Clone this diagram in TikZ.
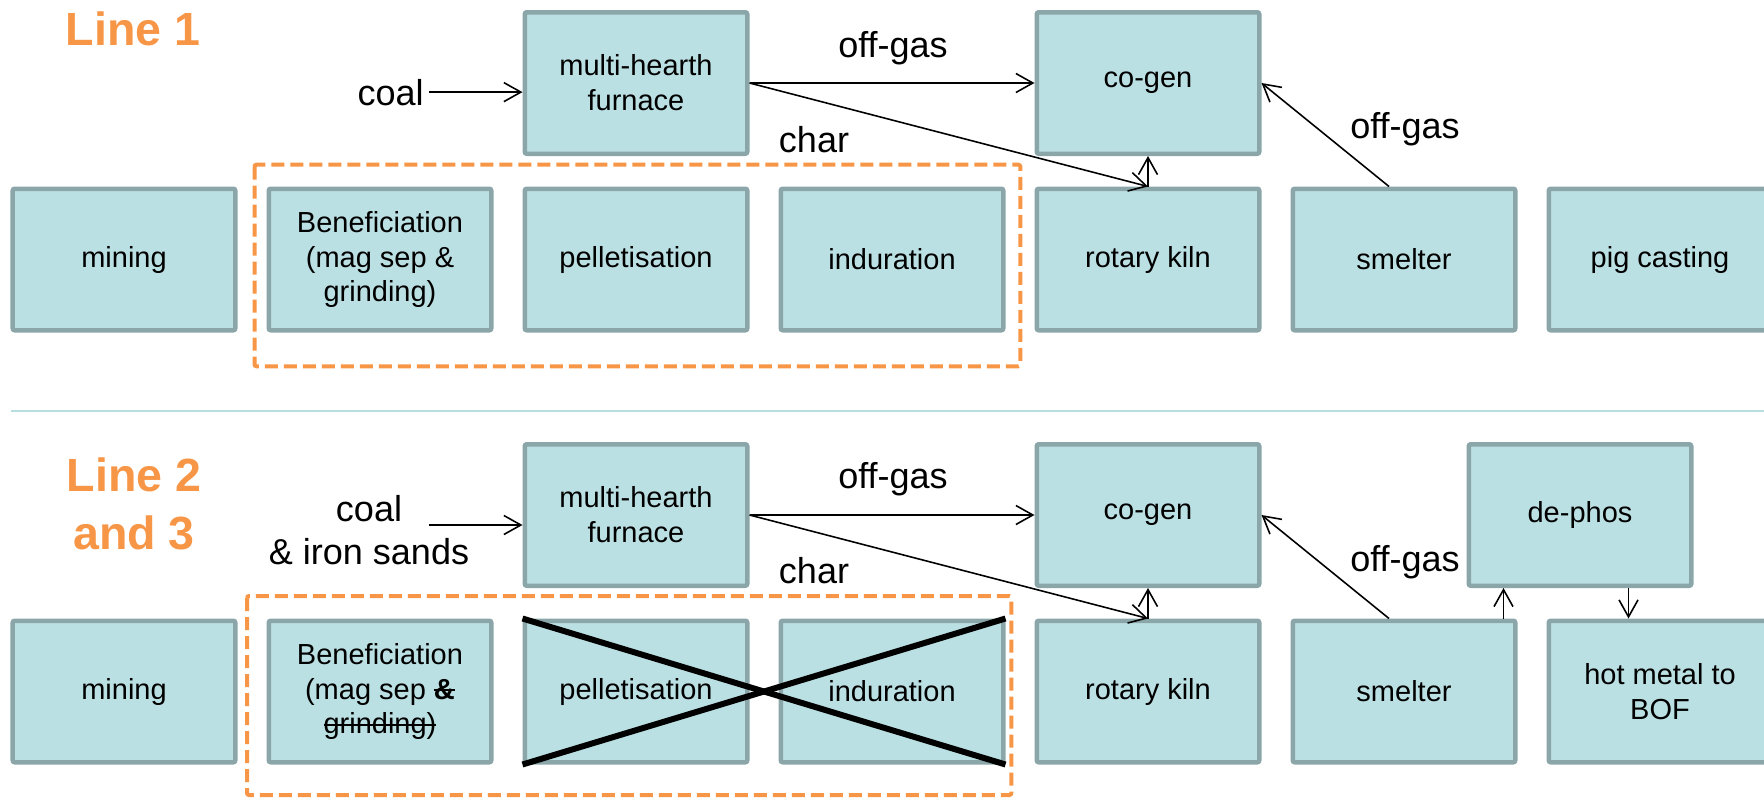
\documentclass[tikz,border=0pt]{standalone}
\usepackage{fontspec}
\setmainfont{Liberation Sans}
\usetikzlibrary{arrows.meta}
\definecolor{boxfill}{RGB}{187,224,227}
\definecolor{boxedge}{RGB}{138,166,169}
\definecolor{lineorange}{RGB}{247,150,70}
\definecolor{sepline}{RGB}{183,221,225}
\newsavebox{\strikebox}
\newcommand{\strikeout}[1]{\sbox{\strikebox}{#1}\rlap{\rule[0.27em]{\wd\strikebox}{1.1pt}}\usebox{\strikebox}}

\begin{document}
\begin{tikzpicture}[x=0.2mm, y=-0.2mm,
    box/.style={draw=boxedge, fill=boxfill, line width=0.9mm, rounded corners=0.4mm,
      minimum width=44.5mm, minimum height=28.3mm, inner sep=0pt, align=center,
      font=\fontsize{16.5}{19.8}\selectfont},
    lbl/.style={inner sep=0pt, font=\fontsize{20.5}{24.6}\selectfont},
    title/.style={inner sep=0pt, text=lineorange, align=center,
      font=\bfseries\fontsize{26.5}{33}\selectfont},
    flow/.style={line width=0.9pt, -{Straight Barb[length=3.4mm,width=3.8mm]}},
    grp/.style={draw=lineorange, line width=0.8mm, dash pattern=on 2.6mm off 1.2mm, rounded corners=0.4mm},
    cross/.style={line width=3.4pt}]
    \useasboundingbox (0,0) rectangle (1764,799);

    \node[title, anchor=base] (line1) at (133,45.5) {Line 1};
    \node[box] (furn1) at (636,83) {multi-hearth\\furnace};
    \node[box] (cogen1) at (1148,83) {co-gen};
    \node[box] (mine1) at (124,259.5) {mining};
    \node[box] (benef1) at (380,259.5) {Beneficiation\\(mag sep \&\\grinding)};
    \node[box] (pell1) at (636,259.5) {pelletisation};
    \node[box] (indur1) at (892,259.5) {induration};
    \node[box] (kiln1) at (1148,259.5) {rotary kiln};
    \node[box] (smelt1) at (1404,259.5) {smelter};
    \node[box] (pig1) at (1660,259.5) {pig casting};
    \draw[grp] (254.5,164.7) rectangle (1020.3,366.3);

    \node[lbl, anchor=base] (coal1) at (390.6,105) {coal};
    \node[lbl, anchor=base] (gas1) at (893,57) {off-gas};
    \node[lbl, anchor=base] (char1) at (814,152) {char};
    \node[lbl, anchor=base] (gas1b) at (1405,138) {off-gas};
    \draw[flow] ([xshift=1mm]coal1.east) -- (coal1.east -| furn1.west);
    \draw[flow] (furn1.east) -- (cogen1.west);
    \draw[flow] (furn1.east) -- (kiln1.north);
    \draw[flow] (kiln1.north) -- (cogen1.south);
    \draw[flow] ([xshift=-3mm]smelt1.north) -- (cogen1.east);

    \draw[sepline, line width=0.4mm] (11,411) -- (1764,411);

    \node[title] (line2) at (134,503.5) {Line 2\\and 3};
    \node[box] (furn2) at (636,515) {multi-hearth\\furnace};
    \node[box] (cogen2) at (1148,515) {co-gen};
    \node[box] (dephos2) at (1580,515) {de-phos};
    \node[box] (mine2) at (124,691.5) {mining};
    \node[box] (benef2) at (380,691.5) {Beneficiation\\(mag sep \strikeout{\textbf{\&}}\\\strikeout{grinding)}};
    \node[box] (pell2) at (636,691.5) {pelletisation};
    \node[box] (indur2) at (892,691.5) {induration};
    \node[box] (kiln2) at (1148,691.5) {rotary kiln};
    \node[box] (smelt2) at (1404,691.5) {smelter};
    \node[box] (hotm2) at (1660,691.5) {hot metal to\\BOF};
    \draw[grp] (247,596) rectangle (1011.4,795);
    \draw[cross] (pell2.north west) -- (indur2.south east);
    \draw[cross] (pell2.south west) -- (indur2.north east);

    \node[lbl, align=center] (coal2) at (369,530.2) {coal\\\& iron sands};
    \coordinate (coalend2) at (429,525);
    \node[lbl, anchor=base] (gas2) at (893,488) {off-gas};
    \node[lbl, anchor=base] (char2) at (814,583) {char};
    \node[lbl, anchor=base] (gas2b) at (1405,571) {off-gas};
    \draw[flow] (coalend2) -- (coalend2 -| furn2.west);
    \draw[flow] (furn2.east) -- (cogen2.west);
    \draw[flow] (furn2.east) -- (kiln2.north);
    \draw[flow] (kiln2.north) -- (cogen2.south);
    \draw[flow] ([xshift=-3mm]smelt2.north) -- (cogen2.east);
    \draw[flow] ([xshift=-2.8mm]smelt2.north east) -- ([xshift=-2.8mm]smelt2.north east |- dephos2.south);
    \draw[flow] ([xshift=9.7mm]dephos2.south) -- ([xshift=9.7mm]dephos2.south |- hotm2.north);
\end{tikzpicture}
\end{document}
